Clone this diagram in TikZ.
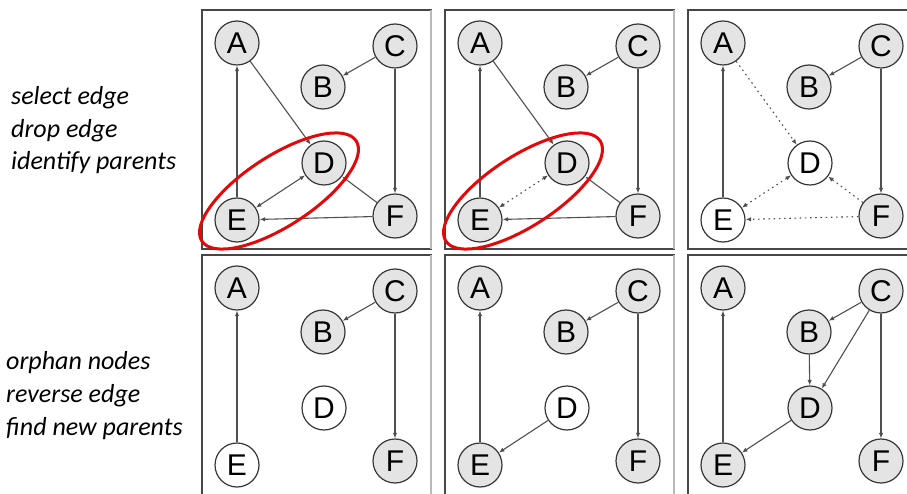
\documentclass[tikz,border=0pt]{standalone}
\usepackage{fontspec}
\setmainfont{Carlito}
\newfontfamily\lettersans{Liberation Sans}
\usetikzlibrary{arrows.meta}
\definecolor{ringred}{RGB}{228,8,10}
\definecolor{nodefill}{RGB}{228,228,228}
\definecolor{inkgray}{RGB}{55,55,55}
\definecolor{edgegray}{RGB}{80,80,80}
\definecolor{framedark}{RGB}{70,70,70}
\definecolor{framelight}{RGB}{185,185,185}

\tikzset{
  vtx/.style={circle, draw=inkgray, line width=1.2pt, fill=nodefill,
    minimum size=44pt, inner sep=0pt,
    font=\lettersans\fontsize{30}{30}\selectfont},
  vtxw/.style={vtx, fill=white},
  edge/.style={draw=edgegray, line width=1.1pt,
    -{Latex[length=5.5pt,width=4.5pt]}},
  dotedge/.style={edge, dash pattern=on 1.6pt off 3.6pt},
  frame/.style={draw=framedark, line width=1.6pt},
  frameright/.style={draw=framelight, line width=2.6pt},
  ring/.style={draw=ringred, line width=3pt},
  caption/.style={anchor=base west, inner sep=0pt,
    font=\itshape\fontsize{26}{32}\selectfont}
}

\begin{document}
\begin{tikzpicture}[x=1pt,y=-1pt]
\useasboundingbox (0,0) rectangle (907,494);
\fill[white] (0,0) rectangle (907,494);

% step labels
\node[caption] (s1) at (11,105) {select edge};
\node[caption] (s2) at (11,137.5) {drop edge};
\node[caption] (s3) at (11,170) {identify parents};
\node[caption] (s4) at (6,369) {orphan nodes};
\node[caption] (s5) at (6,402) {reverse edge};
\node[caption] (s6) at (6,435) {find new parents};

% panel 1: select edge
\begin{scope}[shift={(202,10)}]
  \draw[frame] (0,0) rectangle (229,239);
  \draw[frameright] (229,0) -- (229,239);
  \node[vtx] (a1) at (35,33) {A};
  \node[vtx] (b1) at (121,77) {B};
  \node[vtx] (c1) at (193,36) {C};
  \node[vtx] (d1) at (122,153) {D};
  \node[vtx] (e1) at (35,210) {E};
  \node[vtx] (f1) at (193,206) {F};
  \draw[edge] (e1) -- (a1);
  \draw[edge] (a1) -- (d1);
  \draw[edge] (c1) -- (b1);
  \draw[edge] (c1) -- (f1);
  \draw[edge, {Latex[length=5.5pt,width=4.5pt]}-{Latex[length=5.5pt,width=4.5pt]}] (e1) -- (d1);
  \draw[edge] (f1) -- (d1);
  \draw[edge] (f1) -- (e1);
  \draw[ring, rotate around={33:(77,181)}] (77,181) ellipse [x radius=92pt, y radius=35pt];
\end{scope}

% panel 2: drop edge
\begin{scope}[shift={(445,10)}]
  \draw[frame] (0,0) rectangle (229,239);
  \draw[frameright] (229,0) -- (229,239);
  \node[vtx] (a2) at (35,33) {A};
  \node[vtx] (b2) at (121,77) {B};
  \node[vtx] (c2) at (193,36) {C};
  \node[vtx] (d2) at (122,153) {D};
  \node[vtx] (e2) at (35,210) {E};
  \node[vtx] (f2) at (193,206) {F};
  \draw[edge] (e2) -- (a2);
  \draw[edge] (a2) -- (d2);
  \draw[edge] (c2) -- (b2);
  \draw[edge] (c2) -- (f2);
  \draw[dotedge, {Latex[length=5.5pt,width=4.5pt]}-{Latex[length=5.5pt,width=4.5pt]}] (e2) -- (d2);
  \draw[edge] (f2) -- (d2);
  \draw[edge] (f2) -- (e2);
  \draw[ring, rotate around={33:(78,181)}] (78,181) ellipse [x radius=92pt, y radius=35pt];
\end{scope}

% panel 3: identify parents
\begin{scope}[shift={(688,10)}]
  \draw[frame] (0,0) rectangle (229,239);
  \node[vtx] (a3) at (35,33) {A};
  \node[vtx] (b3) at (121,77) {B};
  \node[vtx] (c3) at (193,36) {C};
  \node[vtxw] (d3) at (122,153) {D};
  \node[vtxw] (e3) at (35,210) {E};
  \node[vtx] (f3) at (193,206) {F};
  \draw[edge] (e3) -- (a3);
  \draw[dotedge] (a3) -- (d3);
  \draw[edge] (c3) -- (b3);
  \draw[edge] (c3) -- (f3);
  \draw[dotedge, {Latex[length=5.5pt,width=4.5pt]}-{Latex[length=5.5pt,width=4.5pt]}] (e3) -- (d3);
  \draw[dotedge] (f3) -- (d3);
  \draw[dotedge] (f3) -- (e3);
\end{scope}

% panel 4: orphan nodes
\begin{scope}[shift={(202,255)}]
  \draw[frame] (0,0) rectangle (229,245);
  \draw[frameright] (229,0) -- (229,245);
  \node[vtx] (a4) at (35,33) {A};
  \node[vtx] (b4) at (121,77) {B};
  \node[vtx] (c4) at (193,36) {C};
  \node[vtxw] (d4) at (122,153) {D};
  \node[vtxw] (e4) at (35,210) {E};
  \node[vtx] (f4) at (193,206) {F};
  \draw[edge] (e4) -- (a4);
  \draw[edge] (c4) -- (b4);
  \draw[edge] (c4) -- (f4);
\end{scope}

% panel 5: reverse edge
\begin{scope}[shift={(445,255)}]
  \draw[frame] (0,0) rectangle (229,245);
  \draw[frameright] (229,0) -- (229,245);
  \node[vtx] (a5) at (35,33) {A};
  \node[vtx] (b5) at (121,77) {B};
  \node[vtx] (c5) at (193,36) {C};
  \node[vtxw] (d5) at (122,153) {D};
  \node[vtx] (e5) at (35,210) {E};
  \node[vtx] (f5) at (193,206) {F};
  \draw[edge] (e5) -- (a5);
  \draw[edge] (c5) -- (b5);
  \draw[edge] (c5) -- (f5);
  \draw[edge] (d5) -- (e5);
\end{scope}

% panel 6: find new parents
\begin{scope}[shift={(688,255)}]
  \draw[frame] (0,0) rectangle (229,245);
  \node[vtx] (a6) at (35,33) {A};
  \node[vtx] (b6) at (121,77) {B};
  \node[vtx] (c6) at (193,36) {C};
  \node[vtx] (d6) at (122,153) {D};
  \node[vtx] (e6) at (35,210) {E};
  \node[vtx] (f6) at (193,206) {F};
  \draw[edge] (e6) -- (a6);
  \draw[edge] (c6) -- (b6);
  \draw[edge] (c6) -- (f6);
  \draw[edge] (b6) -- (d6);
  \draw[edge] (c6) -- (d6);
  \draw[edge] (d6) -- (e6);
\end{scope}
\end{tikzpicture}
\end{document}
